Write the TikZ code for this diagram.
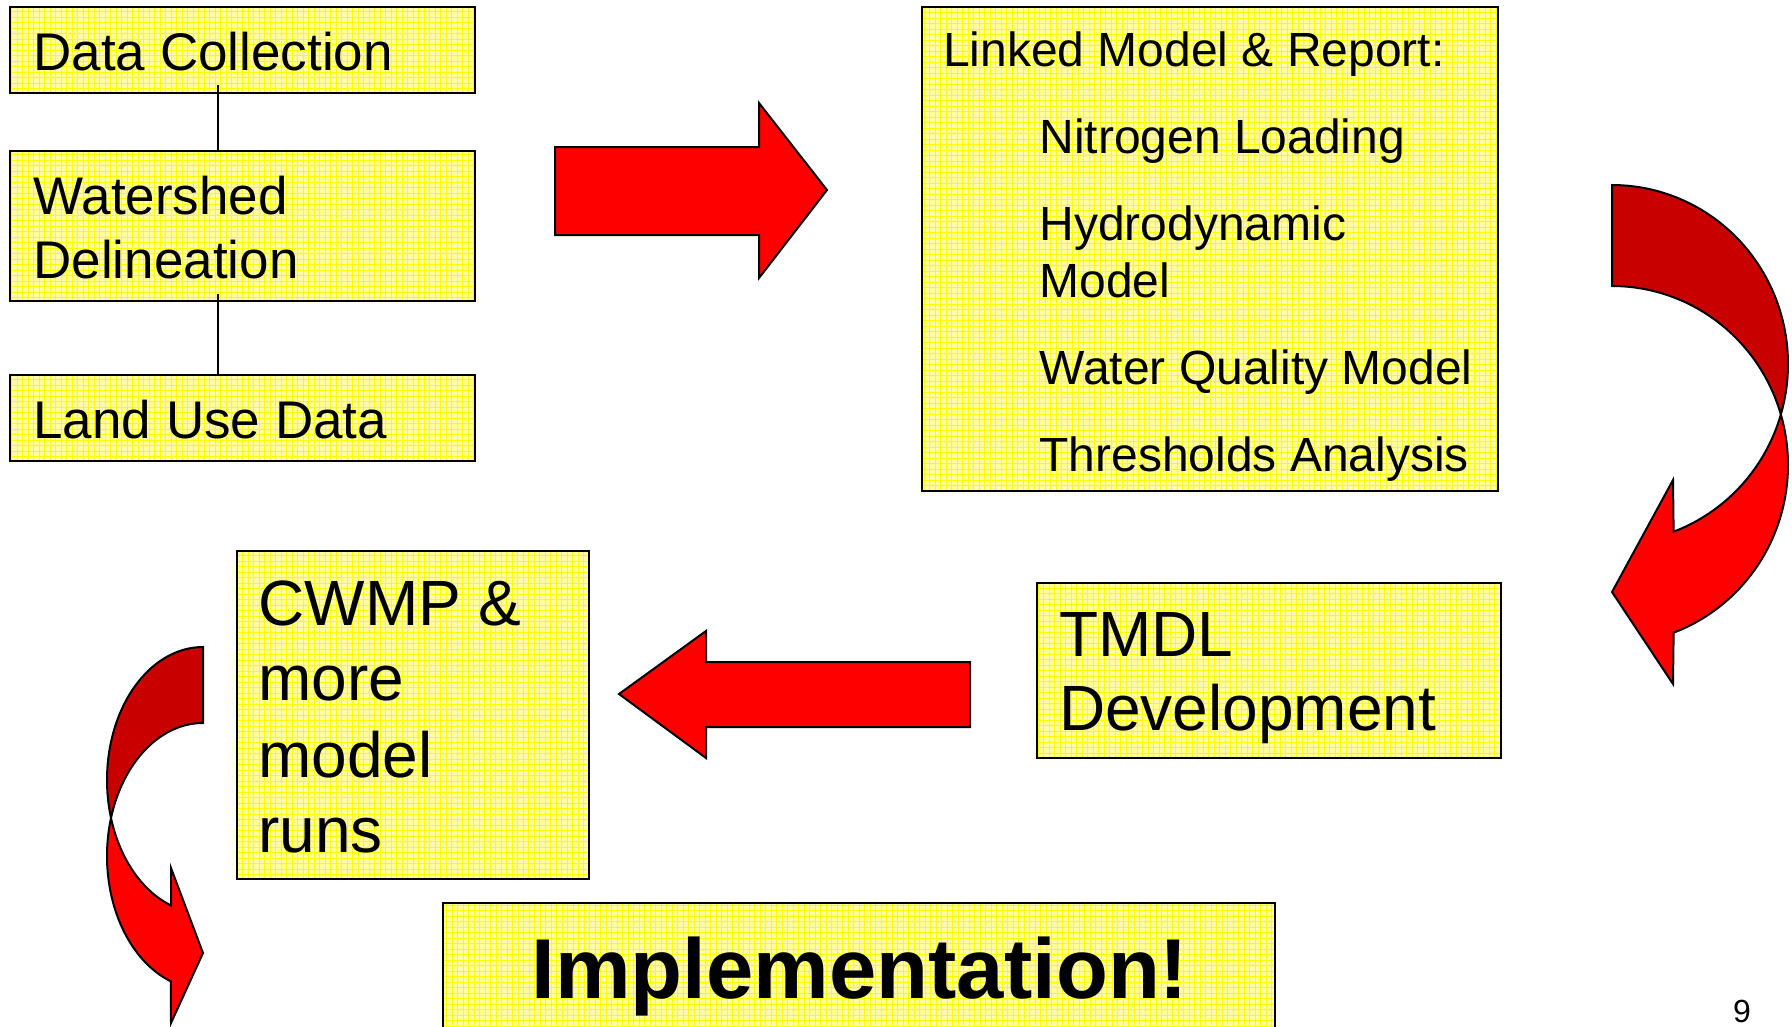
\documentclass[tikz,border=0pt]{standalone}
\usepackage{fontspec}
\setmainfont{Liberation Sans}
\definecolor{panelfill}{RGB}{255,255,160}
\definecolor{panelgrid}{RGB}{255,255,0}
\definecolor{arrowred}{RGB}{255,0,0}
\definecolor{arrowdark}{RGB}{200,0,0}
\tikzset{
  panel/.style={rectangle, draw=black, line width=2.2pt, fill=panelfill,
    inner sep=0pt, outer sep=0pt, anchor=north west,
    path picture={\draw[panelgrid, line width=0.8pt, step=5.5pt]
      (path picture bounding box.south west) grid (path picture bounding box.north east);}},
  txt/.style={anchor=base west, inner sep=0pt, outer sep=0pt, text=black},
  small/.style={font=\fontsize{48}{57}\selectfont},
  medium/.style={font=\fontsize{53}{64}\selectfont},
  large/.style={font=\fontsize{64}{76}\selectfont},
  block/.style={draw=black, line width=2pt, line join=miter, fill=arrowred},
  blockback/.style={block, fill=arrowdark},
  joinline/.style={draw=black, line width=2pt},
}
\begin{document}
\begin{tikzpicture}[x=1pt, y=-1pt]
\useasboundingbox (0,0) rectangle (1792,1026);
\fill[white] (0,0) rectangle (1792,1026);

% left column of boxes
\node[panel, minimum width=465, minimum height=86]  (dc) at (10,7) {};
\node[panel, minimum width=465, minimum height=150] (wd) at (10,151) {};
\node[panel, minimum width=465, minimum height=86]  (lu) at (10,375) {};
\node[txt, medium] (t-dc)  at (33.5,70)  {Data Collection};
\node[txt, medium] (t-wd1) at (33.5,214) {Watershed};
\node[txt, medium] (t-wd2) at (33.5,278) {Delineation};
\node[txt, medium] (t-lu)  at (33.5,438) {Land Use Data};

% vertical links between the left boxes
\coordinate (j1) at (218,85);
\coordinate (j2) at (218,294);
\draw[joinline] (j1) -- (j1 |- wd.north);
\draw[joinline] (j2) -- (j2 |- lu.north);

% model box
\node[panel, minimum width=576, minimum height=484] (lm) at (922,7) {};
\node[txt, small] (t-lm)  at (943,66)   {Linked Model \& Report:};
\node[txt, small] (t-nl)  at (1039.5,153) {Nitrogen Loading};
\node[txt, small] (t-hd1) at (1039.5,240) {Hydrodynamic};
\node[txt, small] (t-hd2) at (1039.5,297) {Model};
\node[txt, small] (t-wq)  at (1039.5,384) {Water Quality Model};
\node[txt, small] (t-th)  at (1039.5,471) {Thresholds Analysis};

% TMDL box
\node[panel, minimum width=464, minimum height=175] (tm) at (1037,583) {};
\node[txt, large] (t-tm1) at (1059,656) {TMDL};
\node[txt, large] (t-tm2) at (1059,730) {Development};

% CWMP box
\node[panel, minimum width=352, minimum height=328] (cw) at (237,551) {};
\node[txt, large] (t-cw1) at (258.5,625) {CWMP \&};
\node[txt, large] (t-cw2) at (258.5,700) {more};
\node[txt, large] (t-cw3) at (258.5,777) {model};
\node[txt, large] (t-cw4) at (258.5,852) {runs};

% implementation box, running off the bottom edge
\node[panel, minimum width=832, minimum height=125] (im) at (443,903) {};
\node[anchor=base, inner sep=0pt, font=\fontsize{85}{100}\selectfont\bfseries] (t-im) at (860,998) {Implementation!};

% page number
\node[anchor=base, inner sep=0pt, font=\fontsize{32}{40}\selectfont] (pg) at (1742,1022) {9};

% straight block arrows
\filldraw[block] (555,147) -- (759,147) -- (759,103) -- (827,190) -- (759,278) -- (759,235) -- (555,235) -- cycle;
\filldraw[block] (970,662) -- (706,662) -- (706,631) -- (619,694) -- (706,758) -- (706,727) -- (970,727) -- cycle;

% right bent arrow: back face then front face
\filldraw[blockback]
  plot[domain=-90:16.4, samples=60] ({1612+176*cos(\x)}, {364+179*sin(\x)})
  -- plot[domain=-16.4:-90, samples=60] ({1612+176*cos(\x)}, {465+179*sin(\x)}) -- cycle;
\filldraw[block]
  plot[domain=-16.4:69.5, samples=60] ({1612+176*cos(\x)}, {465+179*sin(\x)})
  -- (1673,684) -- (1612,592) -- (1673,480) -- ({1612+176*cos(69.5)}, {364+179*sin(69.5)})
  -- plot[domain=69.5:16.4, samples=60] ({1612+176*cos(\x)}, {364+179*sin(\x)}) -- cycle;

% left bent arrow: back face then front face
\filldraw[blockback]
  plot[domain=-90:16.6, samples=60] ({203-96*cos(\x)}, {780+133*sin(\x)})
  -- plot[domain=-16.6:-90, samples=60] ({203-96*cos(\x)}, {856+133*sin(\x)}) -- cycle;
\filldraw[block]
  plot[domain=-16.6:70.5, samples=60] ({203-96*cos(\x)}, {856+133*sin(\x)})
  -- (171,1023) -- (203,953) -- (171,868) -- (171,905.4)
  -- plot[domain=70.5:16.6, samples=60] ({203-96*cos(\x)}, {780+133*sin(\x)}) -- cycle;
\end{tikzpicture}
\end{document}
